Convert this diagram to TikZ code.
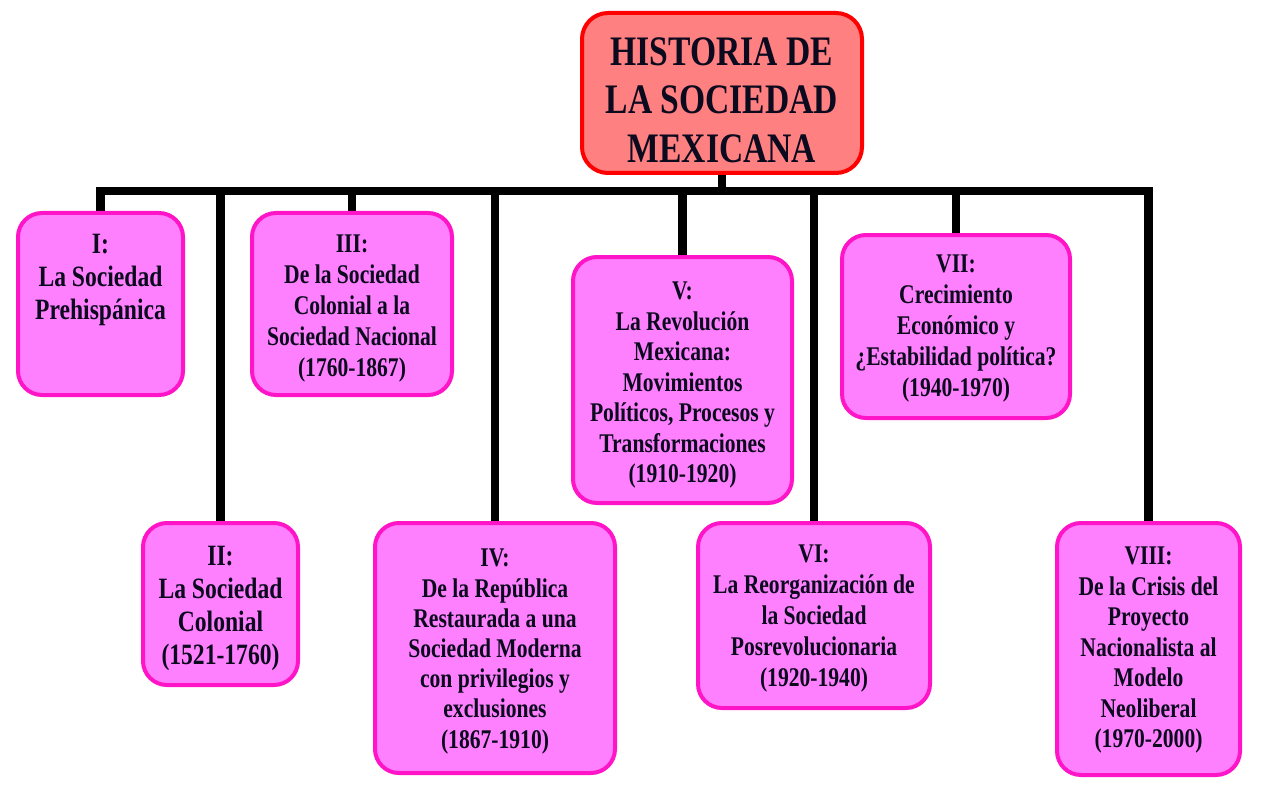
\documentclass[tikz,border=0pt]{standalone}
\usepackage{fontspec}
\usetikzlibrary{backgrounds}
\newfontfamily\boxfont{Liberation Serif}[FakeStretch=0.8]
\definecolor{boxfill}{RGB}{255,128,255}
\definecolor{boxborder}{RGB}{255,20,200}
\definecolor{titlefill}{RGB}{255,128,128}
\definecolor{titleborder}{RGB}{255,0,0}
\definecolor{txtcol}{RGB}{12,10,30}
\begin{document}
\begin{tikzpicture}[x=1pt,y=-1pt,
  pbox/.style={draw=boxborder, fill=boxfill, line width=4pt, rounded corners=24pt,
    inner sep=0pt, outer sep=0pt, anchor=north west},
  tbox/.style={draw=titleborder, fill=titlefill, line width=4pt, rounded corners=26pt,
    inner sep=0pt, outer sep=0pt, anchor=north west},
  ptxt/.style={anchor=north, inner sep=0pt, align=center, text=txtcol,
    font=\boxfont\bfseries\fontsize{27}{31}\selectfont},
  bigtxt/.style={font=\boxfont\bfseries\fontsize{29.5}{33}\selectfont},
  ttxt/.style={anchor=north, inner sep=0pt, align=center, text=txtcol,
    font=\boxfont\bfseries\fontsize{42}{48.5}\selectfont},
  conn/.style={draw=black, line width=8.5pt, line join=miter, line cap=butt}
]
\begin{pgfonlayer}{background}
\fill[white] (0,0) rectangle (1282,805);
\end{pgfonlayer}
\useasboundingbox (0,0) rectangle (1282,805);

\coordinate (bar) at (0,191);

% boxes
\node[tbox, minimum width=280pt, minimum height=160pt] (title) at (582,13) {};
\node[pbox, minimum width=165pt, minimum height=182pt] (b1) at (18,213) {};
\node[pbox, minimum width=155pt, minimum height=162pt] (b2) at (143,523) {};
\node[pbox, minimum width=200pt, minimum height=182pt] (b3) at (252,213) {};
\node[pbox, minimum width=240pt, minimum height=250pt] (b4) at (375,523) {};
\node[pbox, minimum width=219pt, minimum height=246pt] (b5) at (573,257) {};
\node[pbox, minimum width=232pt, minimum height=185pt] (b6) at (698,523) {};
\node[pbox, minimum width=228pt, minimum height=183pt] (b7) at (842,235) {};
\node[pbox, minimum width=183pt, minimum height=252pt] (b8) at (1057,523) {};

% connector paths, behind the boxes
\begin{pgfonlayer}{background}
\foreach \b in {b1,b2,b3,b4,b5,b6,b7,b8}{
  \draw[conn] (title.south) -- (title.south |- bar) -| (\b.north);
}
\end{pgfonlayer}

% texts
\node[ttxt] (tt) at ([yshift=-24pt]title.north) {HISTORIA DE\\LA SOCIEDAD\\MEXICANA};
\node[ptxt, bigtxt] (t1) at ([yshift=-21pt]b1.north) {I:\\La Sociedad\\Prehispánica};
\node[ptxt, bigtxt] (t2) at ([yshift=-23pt]b2.north) {II:\\La Sociedad\\Colonial\\(1521-1760)};
\node[ptxt] (t3) at ([yshift=-22pt]b3.north) {III:\\De la Sociedad\\Colonial a la\\Sociedad Nacional\\(1760-1867)};
\node[ptxt, font=\boxfont\bfseries\fontsize{27}{30.2}\selectfont] (t4) at ([yshift=-26pt]b4.north) {IV:\\De la República\\Restaurada a una\\Sociedad Moderna\\con privilegios y\\exclusiones\\(1867-1910)};
\node[ptxt, font=\boxfont\bfseries\fontsize{27}{30.5}\selectfont] (t5) at ([yshift=-25pt]b5.north) {V:\\La Revolución\\Mexicana:\\Movimientos\\Políticos, Procesos y\\Transformaciones\\(1910-1920)};
\node[ptxt] (t6) at ([yshift=-22pt]b6.north) {VI:\\La Reorganización de\\la Sociedad\\Posrevolucionaria\\(1920-1940)};
\node[ptxt] (t7) at ([yshift=-20pt]b7.north) {VII:\\Crecimiento\\Económico y\\¿Estabilidad política?\\(1940-1970)};
\node[ptxt, font=\boxfont\bfseries\fontsize{27}{30.5}\selectfont] (t8) at ([yshift=-24pt]b8.north) {VIII:\\De la Crisis del\\Proyecto\\Nacionalista al\\Modelo\\Neoliberal\\(1970-2000)};
\end{tikzpicture}
\end{document}
